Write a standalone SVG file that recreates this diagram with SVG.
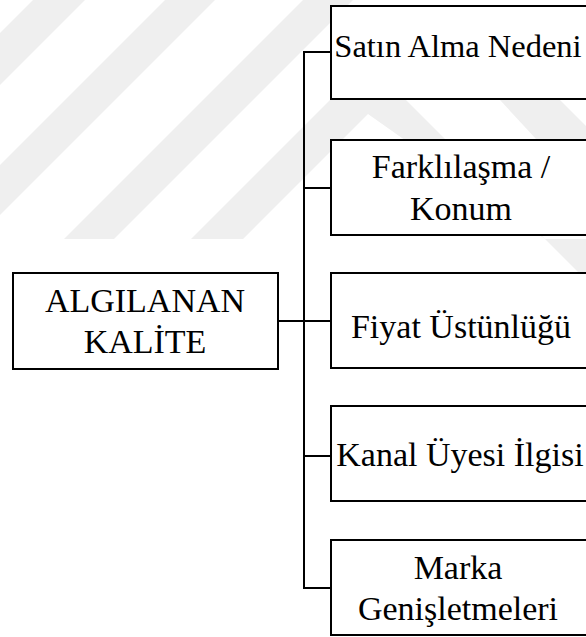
<svg xmlns="http://www.w3.org/2000/svg" width="586" height="637" viewBox="0 0 586 637">
  <style>
    .wm { fill: #efefef; stroke: none; }
    .box { fill: #ffffff; stroke: #000000; stroke-width: 2; }
    .lbl { font-family: "Liberation Serif", "Times New Roman", serif; font-size: 34px; fill: #000000; text-anchor: middle; }
    .conn { fill: none; stroke: #000000; stroke-width: 2; }
  </style>
  <rect x="0" y="0" width="586" height="637" fill="#ffffff"/>
  <g id="watermark">
    <polygon class="wm" points="0,33 33,0 85,0 0,85"/>
    <polygon class="wm" points="0,165 165,0 215,0 0,215"/>
    <polygon class="wm" points="64,239 303,0 353,0 114,239"/>
    <polygon class="wm" points="191,239 368,62 586,280 586,239 545,239 368,114 243,239"/>
    <polygon class="wm" points="500,100 560,100 586,126 586,193"/>
  </g>
  <g id="connectors">
    <line class="conn" x1="278" y1="321" x2="304" y2="321"/>
    <line class="conn" x1="304" y1="51" x2="304" y2="589"/>
    <line class="conn" x1="303" y1="52" x2="331" y2="52"/>
    <line class="conn" x1="303" y1="188" x2="331" y2="188"/>
    <line class="conn" x1="303" y1="321" x2="331" y2="321"/>
    <line class="conn" x1="303" y1="456" x2="331" y2="456"/>
    <line class="conn" x1="303" y1="588" x2="331" y2="588"/>
  </g>
  <g id="algilanan-kalite">
    <rect class="box" x="13" y="273" width="265" height="96"/>
    <text class="lbl" x="145" y="312">ALGILANAN</text>
    <text class="lbl" x="145" y="353">KALİTE</text>
  </g>
  <g id="satin-alma-nedeni">
    <rect class="box" x="331" y="6" width="270" height="93"/>
    <text class="lbl" x="458" y="57" style="font-size:32.5px">Satın Alma Nedeni</text>
  </g>
  <g id="farklilasma-konum">
    <rect class="box" x="331" y="140" width="270" height="95"/>
    <text class="lbl" x="461" y="178">Farklılaşma /</text>
    <text class="lbl" x="461" y="220">Konum</text>
  </g>
  <g id="fiyat-ustunlugu">
    <rect class="box" x="331" y="273" width="270" height="95"/>
    <text class="lbl" x="461" y="338">Fiyat Üstünlüğü</text>
  </g>
  <g id="kanal-uyesi-ilgisi">
    <rect class="box" x="331" y="406" width="270" height="95"/>
    <text class="lbl" x="460" y="466">Kanal Üyesi İlgisi</text>
  </g>
  <g id="marka-genisletmeleri">
    <rect class="box" x="331" y="540" width="270" height="95"/>
    <text class="lbl" x="458" y="579">Marka</text>
    <text class="lbl" x="458" y="620">Genişletmeleri</text>
  </g>
</svg>
